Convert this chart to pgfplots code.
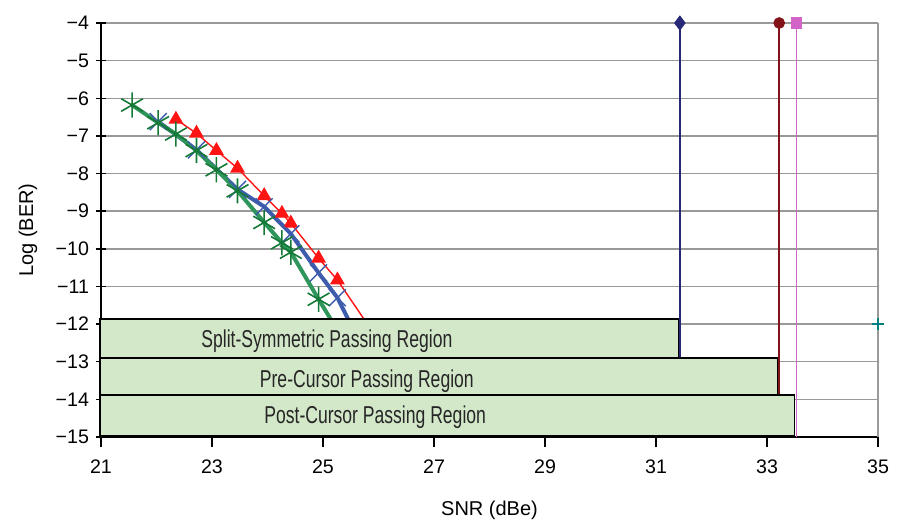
\documentclass[border=0pt]{standalone}
\usepackage{fontspec}
\setmainfont{Liberation Sans}
\newfontfamily\narrowfont[FakeStretch=0.72]{Liberation Sans}
\usepackage{pgfplots}
\pgfplotsset{compat=1.18}

\definecolor{redline}{RGB}{255,20,20}
\definecolor{blueline}{RGB}{62,92,172}
\definecolor{greenline}{RGB}{46,150,90}
\definecolor{greenmark}{RGB}{20,120,55}
\definecolor{navyv}{RGB}{40,40,120}
\definecolor{darkredv}{RGB}{130,20,25}
\definecolor{pinkv}{RGB}{210,100,200}
\definecolor{boxgreen}{RGB}{211,231,201}
\definecolor{tealp}{RGB}{0,128,128}

\begin{document}
\begin{tikzpicture}
\begin{axis}[
scale only axis,
width=388.5pt,
height=207pt,
xmin=21, xmax=35,
ymin=-15, ymax=-4,
clip=false,
axis x line*=bottom,
axis y line*=left,
axis line style={-,black,line width=0.8pt},
xtick={21,23,25,27,29,31,33,35},
xticklabels={21,23,25,27,29,31,33,35},
ytick={-15,-14,...,-4},
yticklabels={−15,−14,−13,−12,−11,−10,−9,−8,−7,−6,−5,−4},
xtick align=outside,
ytick align=center,
major tick length=5pt,
tick style={black,line width=0.7pt},
ymajorgrids,
grid style={gray!80,line width=0.7pt},
tick label style={font=\fontsize{9.8}{10}\selectfont},
xticklabel style={yshift=-3pt},
every axis x label/.style={at={(axis description cs:0.5,0)},anchor=center,yshift=-36.5pt},
every axis y label/.style={at={(axis description cs:0,0.5)},anchor=center,rotate=90,yshift=36.5pt},
label style={font=\fontsize{10}{12}\selectfont},
xlabel={SNR (dBe)},
ylabel={Log (BER)},
]
% right border
\draw[gray!80,line width=0.7pt] (rel axis cs:1,0) -- (rel axis cs:1,1);

% threshold lines
\addplot[navyv,line width=0.8pt,mark=diamond*,mark size=3.2pt,mark indices={1}] coordinates {(31.43,-4) (31.43,-15)};
\addplot[darkredv,line width=0.8pt,mark=*,mark size=2.5pt,mark indices={1}] coordinates {(33.22,-4) (33.22,-15)};
\addplot[pinkv,line width=0.8pt,mark=square*,mark size=2.4pt,mark indices={1}] coordinates {(33.53,-4) (33.53,-15)};
\addplot[tealp,only marks,mark=+,mark size=3pt,line width=0.7pt] coordinates {(35,-12)};

% red (triangles)
\addplot[redline,line width=0.7pt,mark=triangle*,mark size=3.6pt,mark options={fill=redline},mark indices={1,...,9}] coordinates {
(22.35,-6.56) (22.72,-6.93) (23.08,-7.39) (23.46,-7.86) (23.94,-8.59)
(24.26,-9.06) (24.42,-9.32) (24.92,-10.25) (25.26,-10.83) (26.03,-12.5)
};
% blue (crosses)
\addplot[blueline,line width=2pt,mark=x,mark size=6pt,mark options={line width=0.7pt},mark indices={1,...,7}] coordinates {
(22.03,-6.62) (22.72,-7.37) (23.46,-8.42) (23.94,-8.88) (24.42,-9.60)
(24.92,-10.64) (25.26,-11.30) (25.43,-11.80) (25.65,-12.5)
};
% green (asterisks)
\addplot[greenline,line width=2pt,mark=asterisk,mark size=6.3pt,mark options={greenmark,line width=0.8pt},mark indices={1,...,10}] coordinates {
(21.56,-6.18) (22.03,-6.65) (22.35,-6.95) (22.72,-7.39) (23.08,-7.90)
(23.46,-8.46) (23.94,-9.30) (24.26,-9.84) (24.42,-10.09) (24.92,-11.34) (25.4,-12.5)
};

% passing regions
\addplot[fill=boxgreen,draw=black,line width=0.7pt] coordinates {(20.98,-14.97) (33.50,-14.97) (33.50,-13.88) (20.98,-13.88)} -- cycle;
\addplot[fill=boxgreen,draw=black,line width=0.7pt] coordinates {(20.98,-13.88) (33.19,-13.88) (33.19,-12.90) (20.98,-12.90)} -- cycle;
\addplot[fill=boxgreen,draw=black,line width=0.7pt] coordinates {(20.98,-12.90) (31.40,-12.90) (31.40,-11.86) (20.98,-11.86)} -- cycle;
\node[font=\narrowfont\fontsize{12.2}{13}\selectfont,text=black!85] at (axis cs:25.07,-12.45) {Split-Symmetric Passing Region};
\node[font=\narrowfont\fontsize{12.2}{13}\selectfont,text=black!85] at (axis cs:25.79,-13.51) {Pre-Cursor Passing Region};
\node[font=\narrowfont\fontsize{12.2}{13}\selectfont,text=black!85] at (axis cs:25.94,-14.47) {Post-Cursor Passing Region};
\end{axis}
\pgfresetboundingbox
\path[use as bounding box] ([shift={(-50.5pt,-46pt)}]current axis.south west) rectangle ([shift={(10pt,11.5pt)}]current axis.north east);
\end{tikzpicture}
\end{document}
